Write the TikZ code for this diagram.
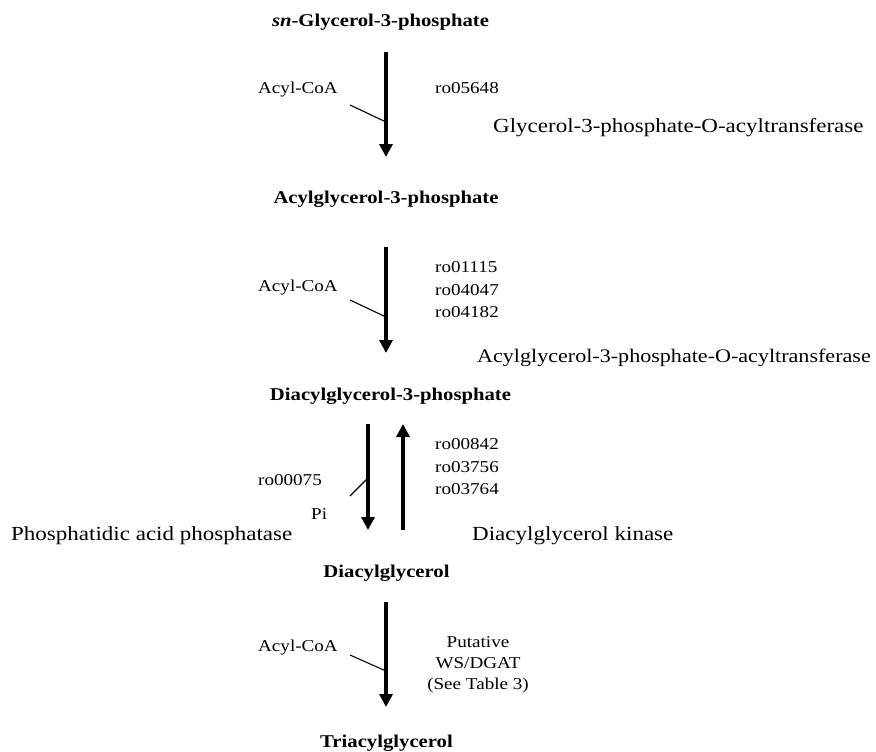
\documentclass[tikz,border=0pt]{standalone}
\usepackage{fontspec}
\setmainfont[FakeStretch=1.15]{Liberation Serif}
\usetikzlibrary{arrows.meta}
\begin{document}
\begin{tikzpicture}[x=1pt,y=-1pt,
 title/.style={font=\fontsize{18}{21}\selectfont\bfseries, inner sep=0pt, anchor=base},
 lab/.style={font=\fontsize{16.6}{20}\selectfont, inner sep=0pt, anchor=base west},
 labc/.style={font=\fontsize{16.6}{20}\selectfont, inner sep=0pt, anchor=base},
 enz/.style={font=\fontsize{20}{24}\selectfont, inner sep=0pt, anchor=base west},
 rxn/.style={line width=4pt, -{Triangle[width=13pt,length=13pt]}},
 feed/.style={line width=1.1pt}]
\useasboundingbox (0,0) rectangle (876,752);

% compounds
\node[title] (g3p) at (380.5,27) {\textit{sn}-Glycerol-3-phosphate};
\node[title] (ag3p) at (386,203) {Acylglycerol-3-phosphate};
\node[title] (dag3p) at (390.5,400) {Diacylglycerol-3-phosphate};
\node[title] (dag) at (386.5,577) {Diacylglycerol};
\node[title] (tag) at (386.5,747) {Triacylglycerol};

% step 1
\coordinate (a1s) at (386,52);
\coordinate (a1e) at (386,157);
\coordinate (a1m) at (386,122);
\coordinate (c1) at (350,105);
\draw[rxn] (a1s) -- (a1e);
\draw[feed] (c1) -- (a1m);
\node[lab] (acoa1) at (258,94) {Acyl-CoA};
\node[lab] (r1) at (435,94) {ro05648};
\node[enz] (e1) at (493,132) {Glycerol-3-phosphate-O-acyltransferase};

% step 2
\coordinate (a2s) at (386,247);
\coordinate (a2e) at (386,353);
\coordinate (a2m) at (386,317);
\coordinate (c2) at (350,300);
\draw[rxn] (a2s) -- (a2e);
\draw[feed] (c2) -- (a2m);
\node[lab] (acoa2) at (258,291) {Acyl-CoA};
\node[lab] (r2a) at (435,272) {ro01115};
\node[lab] (r2b) at (435,295) {ro04047};
\node[lab] (r2c) at (435,317) {ro04182};
\node[enz, font=\fontsize{19.2}{23}\selectfont] (e2) at (477,362) {Acylglycerol-3-phosphate-O-acyltransferase};

% step 3 (reversible)
\coordinate (a3s) at (368,424);
\coordinate (a3e) at (368,530);
\coordinate (a3m) at (367,479);
\coordinate (c3) at (350,496);
\coordinate (b3s) at (403,530);
\coordinate (b3e) at (403,424);
\draw[rxn] (a3s) -- (a3e);
\draw[rxn] (b3s) -- (b3e);
\draw[feed] (c3) -- (a3m);
\node[lab] (r3) at (258,485) {ro00075};
\node[lab] (pi) at (311,519) {Pi};
\node[enz] (e3) at (11,540) {Phosphatidic acid phosphatase};
\node[lab] (r4a) at (435,449) {ro00842};
\node[lab] (r4b) at (435,472) {ro03756};
\node[lab] (r4c) at (435,494) {ro03764};
\node[enz] (e4) at (472,540) {Diacylglycerol kinase};

% step 4
\coordinate (a5s) at (386,602);
\coordinate (a5e) at (386,707);
\coordinate (a5m) at (386,671);
\coordinate (c5) at (350,655);
\draw[rxn] (a5s) -- (a5e);
\draw[feed] (c5) -- (a5m);
\node[lab] (acoa5) at (258,651) {Acyl-CoA};
\node[labc] (p1) at (478,647) {Putative};
\node[labc] (p2) at (478,668) {WS/DGAT};
\node[labc] (p3) at (478,689) {(See Table 3)};
\end{tikzpicture}
\end{document}
